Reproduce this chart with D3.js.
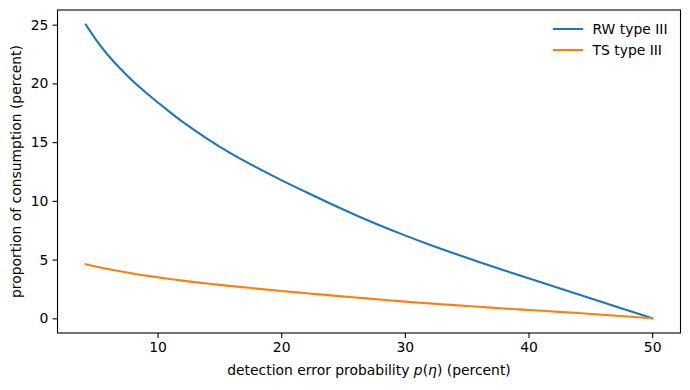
<!DOCTYPE html>
<html>
<head>
<meta charset="utf-8">
<script src="https://cdn.jsdelivr.net/npm/d3@7"></script>
<style>
  html, body { margin: 0; padding: 0; background: #fff; }
  svg text { font-family: "DejaVu Sans", sans-serif; }
</style>
</head>
<body>
<svg id="chart" width="690" height="390"></svg>
<script>
const errorProb = [4.2, 5, 6, 7, 8, 9, 10, 11, 12, 14, 16, 18, 20, 22, 24, 26, 28, 30, 32, 34, 36, 38, 40, 42, 44, 46, 48, 50];
const rwTypeIII = [25.0, 23.75, 22.4, 21.25, 20.2, 19.27, 18.4, 17.55, 16.75, 15.3, 14.0, 12.85, 11.77, 10.75, 9.75, 8.8, 7.9, 7.06, 6.27, 5.52, 4.8, 4.1, 3.41, 2.72, 2.04, 1.36, 0.68, 0.0];
const tsTypeIII = [4.6, 4.42, 4.2, 4.0, 3.82, 3.65, 3.5, 3.35, 3.21, 2.96, 2.74, 2.53, 2.33, 2.14, 1.955, 1.775, 1.6, 1.42, 1.27, 1.12, 0.98, 0.84, 0.71, 0.58, 0.45, 0.31, 0.16, 0.0];
const xTicks = [10, 20, 30, 40, 50];
const yTicks = [0, 5, 10, 15, 20, 25];
const seriesNames = ["RW type III", "TS type III"];
const seriesColors = ["#1f77b4", "#ff7f0e"];

const svg = d3.select("#chart");
const L = 57.5, R = 680.5, T = 10, B = 333;

const xMin = d3.min(errorProb), xMax = d3.max(errorProb);
const xPad = (xMax - xMin) * 0.05;
const x = d3.scaleLinear().domain([xMin - xPad, xMax + xPad]).range([L, R]);
const yMaxV = d3.max(rwTypeIII), yMinV = 0;
const yPad = (yMaxV - yMinV) * 0.05;
const y = d3.scaleLinear().domain([yMinV - yPad, yMaxV + yPad]).range([B, T]);

const line = d3.line().x(d => x(d[0])).y(d => y(d[1])).curve(d3.curveNatural);
const series = [rwTypeIII, tsTypeIII];

const plot = svg.append("g");
plot.append("defs").append("clipPath").attr("id", "clip")
  .append("rect").attr("x", L).attr("y", T).attr("width", R - L).attr("height", B - T);

series.forEach((vals, i) => {
  plot.append("path")
    .datum(errorProb.map((e, j) => [e, vals[j]]))
    .attr("fill", "none")
    .attr("stroke", seriesColors[i])
    .attr("stroke-width", 2.1)
    .attr("stroke-linecap", "square")
    .attr("clip-path", "url(#clip)")
    .attr("d", line);
});

// axes
const xAxis = svg.append("g").attr("transform", `translate(0,${B})`)
  .call(d3.axisBottom(x).tickValues(xTicks).tickSize(4.9).tickPadding(4.2).tickFormat(d3.format("d")));
const yAxis = svg.append("g").attr("transform", `translate(${L},0)`)
  .call(d3.axisLeft(y).tickValues(yTicks).tickSize(4.9).tickPadding(4.2).tickFormat(d3.format("d")));
[xAxis, yAxis].forEach(a => {
  a.select(".domain").remove();
  a.selectAll(".tick line").attr("stroke", "#000").attr("stroke-width", 1.1);
  a.selectAll(".tick text").attr("fill", "#000").style("font-size", "13.9px").style("font-family", "DejaVu Sans, sans-serif");
});

// frame
svg.append("rect").attr("x", L).attr("y", T).attr("width", R - L).attr("height", B - T)
  .attr("fill", "none").attr("stroke", "#000").attr("stroke-width", 1.1);

// x label
const xl = svg.append("text").attr("x", (L + R) / 2).attr("y", 375)
  .attr("text-anchor", "middle").style("font-size", "13.9px").attr("fill", "#000");
xl.append("tspan").text("detection error probability ");
xl.append("tspan").attr("font-style", "italic").text("p");
xl.append("tspan").text("(");
xl.append("tspan").attr("font-style", "italic").text("η");
xl.append("tspan").text(") (percent)");

// y label
svg.append("text").attr("transform", `translate(21,${(T + B) / 2}) rotate(-90)`)
  .attr("text-anchor", "middle").style("font-size", "13.9px").attr("fill", "#000")
  .text("proportion of consumption (percent)");

// legend
const lg = svg.append("g");
seriesNames.forEach((n, i) => {
  const yy = 29 + i * 21;
  lg.append("line").attr("x1", 553).attr("x2", 583).attr("y1", yy).attr("y2", yy)
    .attr("stroke", seriesColors[i]).attr("stroke-width", 2.1);
  lg.append("text").attr("x", 592.5).attr("y", yy + 5).style("font-size", "13.9px").attr("fill", "#000").text(n);
});
</script>
</body>
</html>
